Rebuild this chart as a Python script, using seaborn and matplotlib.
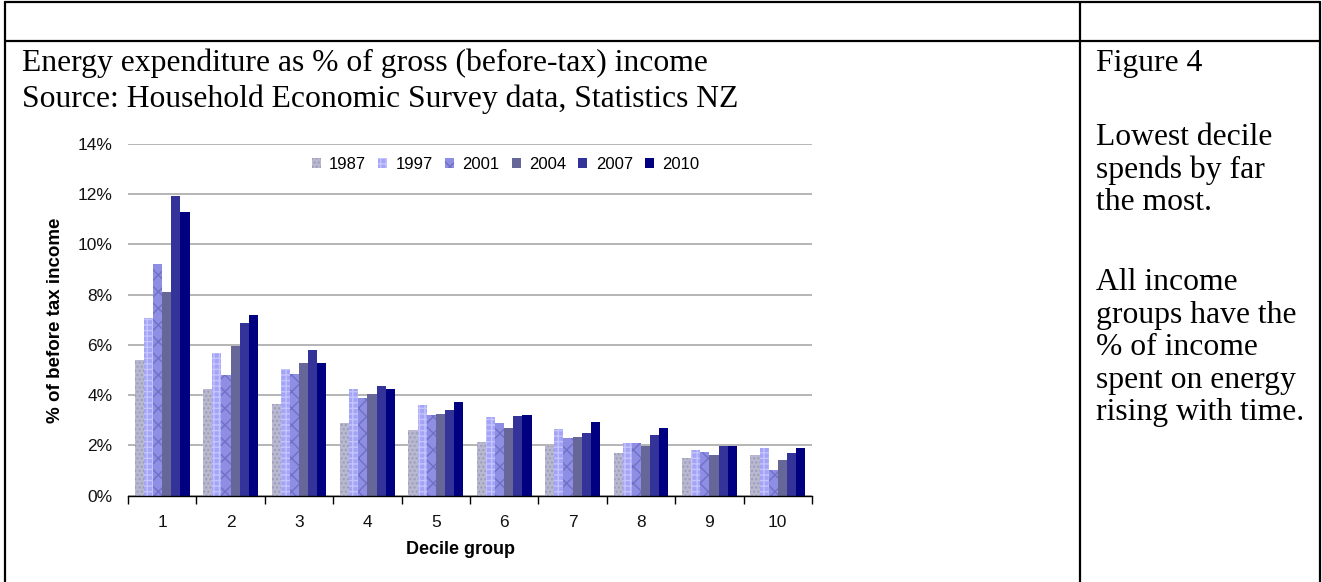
import numpy as np
import pandas as pd
import seaborn as sns
import matplotlib.pyplot as plt
from matplotlib.lines import Line2D
from matplotlib.ticker import FuncFormatter

# values (% of before tax income)
deciles = ['1', '2', '3', '4', '5', '6', '7', '8', '9', '10']
years = ['1987', '1997', '2001', '2004', '2007', '2010']
v1987 = [5.40, 4.25, 3.64, 2.88, 2.62, 2.14, 1.99, 1.69, 1.49, 1.62]
v1997 = [7.07, 5.69, 5.03, 4.24, 3.62, 3.12, 2.66, 2.09, 1.81, 1.90]
v2001 = [9.22, 4.79, 4.84, 3.90, 3.20, 2.88, 2.28, 2.09, 1.75, 1.02]
v2004 = [8.10, 5.96, 5.27, 4.05, 3.26, 2.70, 2.32, 1.98, 1.62, 1.43]
v2007 = [11.93, 6.86, 5.79, 4.38, 3.40, 3.16, 2.51, 2.43, 1.97, 1.69]
v2010 = [11.28, 7.18, 5.27, 4.24, 3.73, 3.20, 2.92, 2.70, 1.99, 1.90]

colors = ['#b8b8d0', '#a4a4f6', '#8e8ee4', '#666699', '#333399', '#000080']
hatch_cols = ['#9c9cb8', '#c4c4ff', '#7070c4', '#666699', '#333399', '#000080']
hatches = ['....', '+++', 'xx', '', '', '']

rows = []
for yr, vals in zip(years, [v1987, v1997, v2001, v2004, v2007, v2010]):
    for d, v in zip(deciles, vals):
        rows.append({'decile': d, 'year': yr, 'value': v})
df = pd.DataFrame(rows)

sns.set_style('white')
plt.rcParams['font.family'] = ['Liberation Sans', 'DejaVu Sans']
plt.rcParams['hatch.linewidth'] = 1.0
plt.rcParams['text.color'] = 'black'

W, H = 1322, 582
fig = plt.figure(figsize=(W / 100, H / 100), dpi=100)
ax = fig.add_axes([128 / W, 1 - 495.7 / H, 684 / W, (495.7 - 144) / H])

sns.barplot(data=df, x='decile', y='value', hue='year', order=deciles, hue_order=years,
            palette=colors, width=0.8, saturation=1, ax=ax, legend=False)

for i, cont in enumerate(ax.containers):
    for bar in cont:
        bar.set_hatch(hatches[i])
        bar.set_edgecolor(hatch_cols[i])
        bar.set_linewidth(0)

ax.set_ylim(0, 14)
ax.set_xlim(-0.5, 9.5)
ax.set_yticks(np.arange(0, 15, 2))
ax.yaxis.set_major_formatter(FuncFormatter(lambda v, p: f'{v:.0f}%'))
ax.grid(axis='y', color='#b0b0b0', lw=1.3)
ax.set_axisbelow(True)
for s in ['left', 'top', 'right']:
    ax.spines[s].set_visible(False)
ax.spines['bottom'].set_color('black')
ax.spines['bottom'].set_linewidth(1.0)

ax.set_xticks(np.arange(-0.5, 10, 1), minor=True)
ax.tick_params(axis='x', which='minor', length=6, width=1, color='black', direction='out', bottom=True)
ax.tick_params(axis='x', which='major', length=0, pad=14, labelsize=12.5, colors='#111111')
ax.tick_params(axis='y', length=0, pad=11, labelsize=12.5, colors='#111111')

ax.set_xlabel('Decile group', fontsize=13, fontweight='bold', color='black')
ax.xaxis.set_label_coords((460 - 128) / 684, (495.7 - 541) / 351.7)
ax.set_ylabel('% of before tax income', fontsize=13.5, fontweight='bold', labelpad=10, color='black')

ax.legend(handles=list(ax.containers), labels=years, loc='center', bbox_to_anchor=(0.552, 0.943),
          ncol=6, frameon=False, fontsize=12, handlelength=0.55, handleheight=0.55,
          handletextpad=0.5, columnspacing=0.72)

# table frame of the surrounding document
def hline(y, x0=5, x1=1320):
    fig.add_artist(Line2D([x0 / W, x1 / W], [1 - y / H, 1 - y / H], color='black', lw=1.6))

def vline(x, y0=2, y1=582):
    fig.add_artist(Line2D([x / W, x / W], [1 - y0 / H, 1 - y1 / H], color='black', lw=1.6))

hline(2)
hline(41)
vline(5)
vline(1080)
vline(1320)

serif = ['Liberation Serif', 'DejaVu Serif']
fig.text(22 / W, 1 - 71 / H, 'Energy expenditure as % of gross (before-tax) income',
         family=serif, fontsize=22.8, va='baseline', ha='left', color='black')
fig.text(22 / W, 1 - 107 / H, 'Source: Household Economic Survey data, Statistics NZ',
         family=serif, fontsize=22.8, va='baseline', ha='left', color='black')

side = [('Figure 4', 71), ('Lowest decile', 145), ('spends by far', 178), ('the most.', 210),
        ('All income', 290), ('groups have the', 323), ('% of income', 355),
        ('spent on energy', 388), ('rising with time.', 420)]
for txt, yb in side:
    fig.text(1096 / W, 1 - yb / H, txt, family=serif, fontsize=22.8, va='baseline', ha='left',
             color='black')

fig.savefig('out.png', dpi=100)
